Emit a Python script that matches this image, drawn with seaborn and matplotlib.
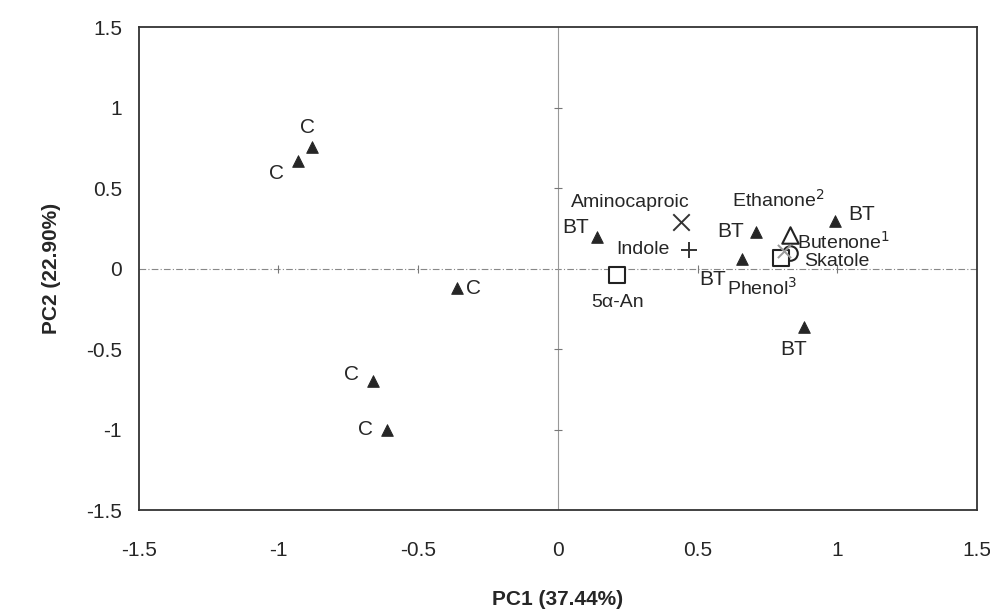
import pandas as pd
import seaborn as sns
from matplotlib import pyplot as plt

# sample scores (filled triangles)
sample_x = [-0.88, -0.93, -0.36, -0.66, -0.61, 0.14, 0.71, 0.66, 0.99, 0.88]
sample_y = [0.76, 0.67, -0.12, -0.70, -1.00, 0.20, 0.23, 0.06, 0.30, -0.36]
sample_lab = ['C', 'C', 'C', 'C', 'C', 'BT', 'BT', 'BT', 'BT', 'BT']

# compound loadings
comp_names = ['Aminocaproic', 'Indole', '5α-An', 'Ethanone', 'Butenone', 'Phenol', 'Skatole']
comp_x = [0.44, 0.47, 0.21, 0.83, 0.81, 0.83, 0.80]
comp_y = [0.29, 0.12, -0.04, 0.21, 0.11, 0.10, 0.07]
comp_mark = ['x', '+', 's', '^', '*', 'o', 's']

ticks = [-1.5, -1, -0.5, 0, 0.5, 1, 1.5]
tick_lab = ['-1.5', '-1', '-0.5', '0', '0.5', '1', '1.5']

sns.set_style('white')
plt.rcParams['font.family'] = ['Liberation Sans', 'DejaVu Sans']

fig, ax = plt.subplots(figsize=(9.9, 6.11), dpi=100)
fig.subplots_adjust(left=0.14, right=0.987, top=0.955, bottom=0.165)

ax.axhline(0, color='#888888', lw=0.8, ls=(0, (6, 2, 1, 2)), zorder=0)
ax.axvline(0, color='#999999', lw=0.8, zorder=0)
# little tick marks on the crossing axes
inner = [t for t in ticks if abs(t) not in (0, 1.5)]
ax.plot(inner, [0] * len(inner), ls='none', marker='|', ms=6, color='#777777', mew=0.8, zorder=0)
ax.plot([0] * len(inner), inner, ls='none', marker='_', ms=6, color='#777777', mew=0.8, zorder=0)

df = pd.DataFrame({'x': sample_x, 'y': sample_y, 'g': sample_lab})
sns.scatterplot(data=df, x='x', y='y', marker='^', color='#262626', s=70,
                edgecolor='#262626', ax=ax, legend=False, zorder=3)

for nm, x, y, m in zip(comp_names, comp_x, comp_y, comp_mark):
    if m in ['x', '+']:
        ax.scatter(x, y, marker=m, s=140, color='#333333', linewidths=1.4, zorder=4)
    elif m == '*':
        ax.scatter(x, y, marker='x', s=90, color='#999999', linewidths=1.4, zorder=5)
    else:
        ax.scatter(x, y, marker=m, s=140 if m != 'o' else 110, facecolor='white',
                   edgecolor='#222222', linewidths=1.5, zorder=4)

fs = 15
# sample labels
offs = [(-0.015, 0.12, 'center'), (-0.05, -0.08, 'right'), (0.03, 0.0, 'left'),
        (-0.05, 0.045, 'right'), (-0.05, 0.0, 'right'), (-0.03, 0.06, 'right'),
        (-0.045, 0.0, 'right'), (-0.06, -0.125, 'right'), (0.05, 0.035, 'left'),
        (-0.035, -0.14, 'center')]
for (dx, dy, ha), x, y, t in zip(offs, sample_x, sample_y, sample_lab):
    ax.text(x + dx, y + dy, t, ha=ha, va='center', fontsize=fs)

cfs = 14
ax.text(0.26, 0.41, 'Aminocaproic', ha='center', va='center', fontsize=cfs)
ax.text(0.40, 0.12, 'Indole', ha='right', va='center', fontsize=cfs)
ax.text(0.215, -0.21, '5α-An', ha='center', va='center', fontsize=cfs)
ax.text(0.79, 0.43, 'Ethanone$^2$', ha='center', va='center', fontsize=cfs)
ax.text(0.855, 0.165, 'Butenone$^1$', ha='left', va='center', fontsize=cfs)
ax.text(0.88, 0.045, 'Skatole', ha='left', va='center', fontsize=cfs)
ax.text(0.73, -0.12, 'Phenol$^3$', ha='center', va='center', fontsize=cfs)

ax.set_xlim(-1.5, 1.5)
ax.set_ylim(-1.5, 1.5)
ax.set_xticks(ticks)
ax.set_xticklabels(tick_lab)
ax.set_yticks(ticks)
ax.set_yticklabels(tick_lab)
ax.tick_params(labelsize=15, length=0)
ax.tick_params(axis='y', pad=12)
ax.tick_params(axis='x', pad=22)
for sp in ax.spines.values():
    sp.set_color('#333333')
    sp.set_linewidth(1.3)

ax.set_xlabel('PC1 (37.44%)', fontsize=15, fontweight='bold', labelpad=22)
ax.set_ylabel('PC2 (22.90%)', fontsize=15, fontweight='bold', labelpad=18)

fig.savefig('out.png', dpi=100, facecolor='white')
